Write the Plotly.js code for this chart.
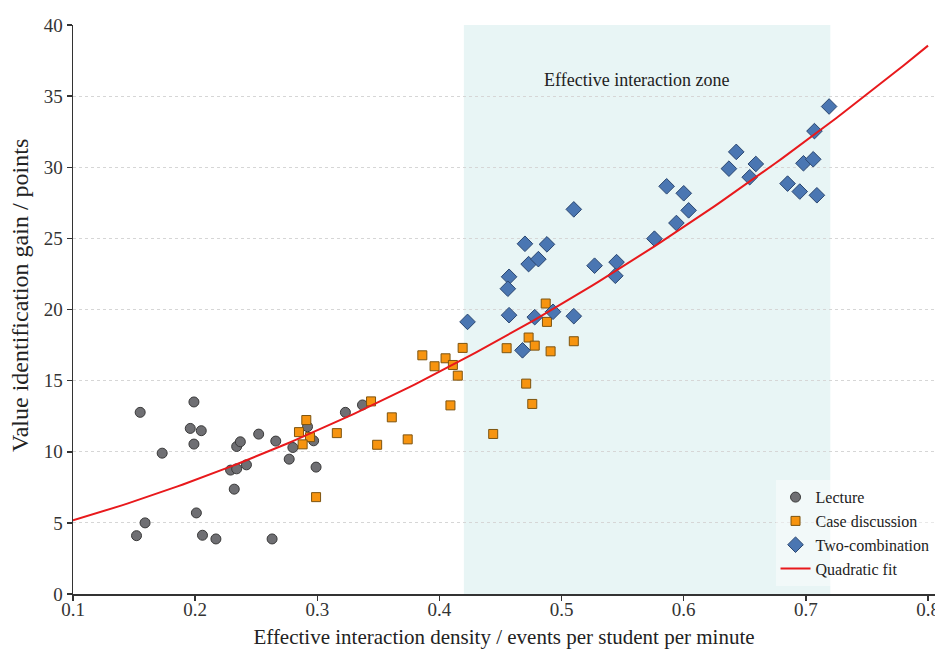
<!DOCTYPE html>
<html>
<head>
<meta charset="utf-8">
<script src="https://cdn.plot.ly/plotly-3.0.1.min.js"></script>
<style>html,body{margin:0;padding:0;background:#fff;}#chart{width:935px;height:651px;}</style>
</head>
<body>
<div id="chart"></div>
<script>
// Lecture
const lectureX = [0.155, 0.199, 0.196, 0.205, 0.199, 0.173, 0.234, 0.237, 0.252, 0.266, 0.280, 0.277, 0.292, 0.297, 0.299, 0.229, 0.234, 0.242, 0.232, 0.201, 0.159, 0.152, 0.206, 0.217, 0.263, 0.323, 0.337];
const lectureY = [12.77, 13.50, 11.64, 11.48, 10.54, 9.90, 10.37, 10.70, 11.24, 10.75, 10.30, 9.48, 11.76, 10.77, 8.92, 8.71, 8.80, 9.08, 7.37, 5.70, 5.00, 4.10, 4.13, 3.87, 3.87, 12.77, 13.29];
// Case discussion
const caseX = [0.291, 0.285, 0.294, 0.288, 0.316, 0.299, 0.344, 0.361, 0.349, 0.374, 0.386, 0.396, 0.405, 0.411, 0.419, 0.415, 0.409, 0.444, 0.455, 0.471, 0.476, 0.473, 0.478, 0.487, 0.488, 0.491, 0.510];
const caseY = [12.23, 11.38, 11.03, 10.52, 11.31, 6.81, 13.54, 12.42, 10.49, 10.87, 16.78, 16.01, 16.57, 16.10, 17.30, 15.35, 13.26, 11.25, 17.28, 14.79, 13.36, 18.03, 17.46, 20.42, 19.13, 17.06, 17.77];
// Two-combination
const comboX = [0.457, 0.456, 0.423, 0.457, 0.478, 0.493, 0.510, 0.468, 0.510, 0.470, 0.488, 0.473, 0.481, 0.527, 0.545, 0.544, 0.576, 0.586, 0.600, 0.594, 0.604, 0.637, 0.643, 0.659, 0.654, 0.685, 0.695, 0.709, 0.698, 0.706, 0.707, 0.719];
const comboY = [22.30, 21.46, 19.13, 19.60, 19.46, 19.84, 19.53, 17.13, 27.04, 24.62, 24.58, 23.19, 23.54, 23.08, 23.33, 22.37, 24.98, 28.66, 28.17, 26.08, 26.97, 29.90, 31.08, 30.23, 29.30, 28.85, 28.29, 28.03, 30.28, 30.56, 32.54, 34.27];

const seriesNames = ["Lecture", "Case discussion", "Two-combination", "Quadratic fit"];
const zoneRange = [0.42, 0.72];
const zoneLabel = "Effective interaction zone";
const xTitle = "Effective interaction density / events per student per minute";
const yTitle = "Value identification gain / points";
const xTicks = [0.1, 0.2, 0.3, 0.4, 0.5, 0.6, 0.7, 0.8];
const yTicks = [0, 5, 10, 15, 20, 25, 30, 35, 40];
const fitRange = [0.1, 0.8];

// Least-squares quadratic fit over all points
function quadFit(xs, ys) {
  let S = [0,0,0,0,0], T = [0,0,0];
  for (let i = 0; i < xs.length; i++) {
    let p = 1;
    for (let k = 0; k < 5; k++) { S[k] += p; if (k < 3) T[k] += p * ys[i]; p *= xs[i]; }
  }
  const A = [[S[0],S[1],S[2],T[0]],[S[1],S[2],S[3],T[1]],[S[2],S[3],S[4],T[2]]];
  for (let c = 0; c < 3; c++) {
    for (let r = c + 1; r < 3; r++) {
      const f = A[r][c] / A[c][c];
      for (let k = c; k < 4; k++) A[r][k] -= f * A[c][k];
    }
  }
  const sol = [0,0,0];
  for (let r = 2; r >= 0; r--) {
    let s = A[r][3];
    for (let k = r + 1; k < 3; k++) s -= A[r][k] * sol[k];
    sol[r] = s / A[r][r];
  }
  return sol;
}
const allX = lectureX.concat(caseX, comboX);
const allY = lectureY.concat(caseY, comboY);
const coef = quadFit(allX, allY);
const fitX = [], fitY = [];
for (let i = 0; i <= 140; i++) {
  const x = fitRange[0] + (fitRange[1] - fitRange[0]) * i / 140;
  fitX.push(x);
  fitY.push(coef[0] + coef[1] * x + coef[2] * x * x);
}

const serif = "Liberation Serif, Times New Roman, serif";

const traces = [
  {x: lectureX, y: lectureY, name: seriesNames[0], type: "scatter", mode: "markers",
   marker: {symbol: "circle", size: 10, color: "#6f6f73", line: {color: "#3a3a3a", width: 1}}},
  {x: caseX, y: caseY, name: seriesNames[1], type: "scatter", mode: "markers",
   marker: {symbol: "square", size: 9, color: "#f7940f", line: {color: "#7d5410", width: 1}}},
  {x: comboX, y: comboY, name: seriesNames[2], type: "scatter", mode: "markers",
   marker: {symbol: "diamond", size: 12, color: "#4a76b2", line: {color: "#2a4670", width: 1}}},
  {x: fitX, y: fitY, name: seriesNames[3], type: "scatter", mode: "lines",
   line: {color: "#e8191c", width: 2}}
];

const layout = {
  width: 935, height: 651,
  margin: {l: 73, r: 0, t: 25, b: 57},
  paper_bgcolor: "#ffffff", plot_bgcolor: "#ffffff",
  font: {family: serif, color: "#222", size: 16},
  showlegend: true,
  xaxis: {
    range: [0.1, 0.8057], tickvals: xTicks, ticktext: xTicks.map(v => v.toFixed(1)),
    ticklabeloverflow: "allow",
    showgrid: false, zeroline: false, showline: true, linecolor: "#333", linewidth: 1.5,
    ticks: "outside", ticklen: 5, tickwidth: 1.5, tickcolor: "#333", ticklabelstandoff: -7,
    tickfont: {family: serif, size: 19, color: "#333"},
    title: {text: xTitle, font: {family: serif, size: 21, color: "#222"}, standoff: 10}
  },
  yaxis: {
    range: [0, 40], tickvals: yTicks,
    showgrid: true, gridcolor: "#d6d6d6", griddash: "3px,3px", gridwidth: 1,
    zeroline: false, showline: true, linecolor: "#333", linewidth: 1.5,
    ticks: "outside", ticklen: 5, tickwidth: 1.5, tickcolor: "#333",
    tickfont: {family: serif, size: 19, color: "#333"}
  },
  shapes: [{type: "rect", xref: "x", yref: "paper", x0: zoneRange[0], x1: zoneRange[1], y0: 0, y1: 1,
            fillcolor: "#e8f5f5", line: {width: 0}, layer: "below"}],
  annotations: [
    {x: (zoneRange[0] + zoneRange[1]) / 2 - 0.008, y: 36.1, xref: "x", yref: "y", text: zoneLabel,
     showarrow: false, font: {family: serif, size: 18, color: "#222"}},
    {x: -0.0615, y: 0.5255, xref: "paper", yref: "paper", text: yTitle, textangle: -90,
     xanchor: "center", yanchor: "middle", showarrow: false, font: {family: serif, size: 24, color: "#222"}}
  ],
  legend: {x: 0.815, xanchor: "left", y: 0.2, yanchor: "top", bgcolor: "rgba(255,255,255,0.45)",
           borderwidth: 0, font: {family: serif, size: 16, color: "#222"}}
};

Plotly.newPlot("chart", traces, layout, {displayModeBar: false, staticPlot: true});
</script>
</body>
</html>
